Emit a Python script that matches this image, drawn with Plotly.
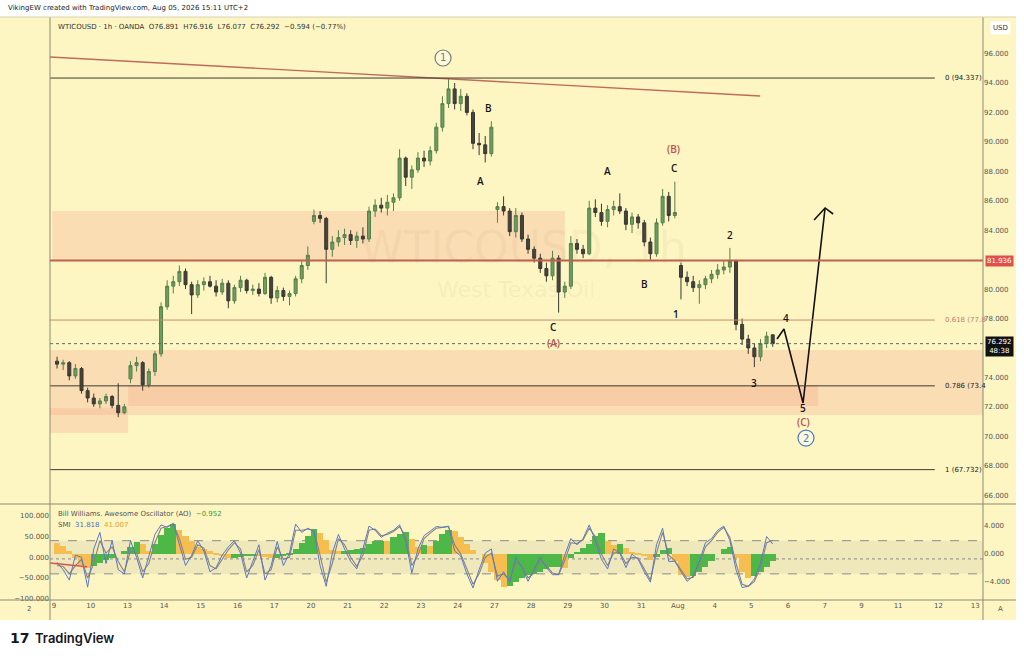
import plotly.graph_objects as go

# ---------------- data ----------------
# 4-hour-ish candles, 6 per trading day (Jul 9 .. Aug 5, 2026)
opens = [
    75.1, 74.9, 75.0, 74.1, 74.6, 73.1,   # Jul 9
    72.6, 72.2, 72.4, 72.7, 72.1, 71.6,   # Jul 10
    73.9, 74.8, 75.0, 73.5, 74.4, 75.6,   # Jul 13
    78.8, 80.2, 80.5, 81.2, 80.3, 79.6,   # Jul 14
    80.3, 80.5, 80.2, 79.8, 80.4, 79.2,   # Jul 15
    80.1, 80.6, 79.9, 80.0, 79.7, 80.8,   # Jul 16
    79.4, 79.9, 79.5, 79.7, 80.7, 81.6,   # Jul 17
    84.6, 85.0, 84.8, 82.7, 83.2, 83.5,   # Jul 20
    83.7, 83.3, 83.6, 83.4, 85.3, 85.7,   # Jul 21
    85.5, 85.9, 86.2, 88.9, 87.6, 88.1,   # Jul 22
    88.9, 88.7, 89.4, 91.0, 92.6, 93.6,   # Jul 23
    92.6, 93.1, 92.0, 89.9, 89.8, 89.2,   # Jul 24
    85.4, 85.6, 85.3, 83.9, 85.0, 83.4,   # Jul 27
    82.7, 82.1, 81.4, 80.9, 82.1, 79.8,   # Jul 28
    80.2, 83.1, 82.7, 82.4, 85.5, 85.2,   # Jul 29
    84.6, 85.4, 85.6, 85.3, 84.4, 84.9,   # Jul 30
    84.5, 83.2, 82.4, 84.5, 86.3, 85.0,   # Jul 31
    81.6, 80.8, 80.5, 80.1, 80.3, 80.7,   # Aug 3
    81.0, 81.3, 81.5, 81.9, 77.6, 76.6,   # Aug 4
    76.0, 75.4, 76.3, 76.891,             # Aug 5
]
highs = [
    75.4, 75.2, 75.1, 74.9, 74.7, 73.3,
    72.9, 72.6, 72.9, 72.8, 73.6, 72.2,
    75.1, 75.4, 75.1, 74.6, 75.8, 79.1,
    80.6, 80.9, 81.6, 81.4, 80.5, 80.6,
    80.8, 80.9, 80.6, 80.7, 80.6, 80.3,
    80.9, 80.7, 80.3, 80.4, 81.1, 80.9,
    80.2, 80.1, 79.9, 80.9, 81.9, 82.9,
    85.4, 85.3, 84.9, 83.6, 84.0, 84.1,
    84.0, 83.9, 84.2, 85.6, 86.1, 86.2,
    86.4, 86.5, 89.5, 89.0, 88.4, 89.3,
    89.4, 89.7, 91.3, 93.1, 94.34, 94.0,
    93.6, 93.3, 92.2, 90.6, 90.4, 91.4,
    85.9, 86.3, 85.5, 85.5, 85.2, 83.7,
    82.9, 82.4, 81.8, 82.6, 82.3, 80.5,
    83.6, 83.4, 83.0, 86.0, 86.1, 85.8,
    85.7, 86.0, 86.5, 85.5, 85.2, 85.1,
    84.7, 83.5, 84.8, 86.8, 86.6, 87.3,
    81.8, 81.2, 80.9, 80.6, 80.9, 81.3,
    81.7, 81.9, 82.8, 82.0, 78.0, 76.9,
    76.3, 76.6, 77.1, 76.916,
]
lows = [
    74.6, 74.5, 73.8, 73.9, 72.9, 72.3,
    72.0, 71.9, 72.2, 71.9, 71.3, 71.5,
    73.6, 74.4, 73.1, 73.3, 74.1, 75.4,
    78.6, 79.7, 80.2, 80.0, 78.3, 79.4,
    79.9, 80.1, 79.5, 79.6, 78.7, 79.0,
    79.8, 79.7, 79.6, 79.5, 79.6, 79.0,
    79.1, 79.2, 78.9, 79.5, 80.4, 81.3,
    84.4, 84.5, 80.4, 82.2, 82.9, 83.0,
    83.0, 82.8, 83.1, 83.2, 84.9, 85.2,
    85.0, 85.3, 86.0, 87.0, 86.8, 87.9,
    88.3, 88.4, 89.2, 90.7, 92.3, 92.2,
    92.1, 91.8, 89.5, 89.1, 88.6, 89.0,
    84.5, 85.0, 83.6, 83.5, 83.2, 82.4,
    81.8, 81.1, 80.5, 80.6, 78.4, 79.4,
    80.0, 82.4, 82.1, 82.3, 84.9, 84.3,
    84.2, 85.0, 85.1, 84.0, 83.8, 84.1,
    82.9, 82.0, 82.2, 84.3, 84.6, 84.8,
    79.3, 80.2, 79.8, 79.0, 80.0, 80.4,
    80.7, 81.0, 81.1, 77.2, 76.2, 75.6,
    74.7, 75.1, 76.0, 76.077,
]
closes = [
    74.9, 75.0, 74.1, 74.6, 73.1, 72.6,
    72.2, 72.4, 72.7, 72.1, 71.6, 72.0,
    74.8, 75.0, 73.5, 74.4, 75.6, 78.8,
    80.2, 80.5, 81.2, 80.3, 79.6, 80.3,
    80.5, 80.2, 79.8, 80.4, 79.2, 80.1,
    80.6, 79.9, 80.0, 79.7, 80.8, 79.4,
    79.9, 79.5, 79.7, 80.7, 81.6, 82.3,
    85.0, 84.8, 82.7, 83.2, 83.5, 83.7,
    83.3, 83.6, 83.4, 85.3, 85.7, 85.5,
    85.9, 86.2, 88.9, 87.6, 88.1, 88.9,
    88.7, 89.4, 91.0, 92.6, 93.6, 92.6,
    93.1, 92.0, 89.9, 89.8, 89.2, 91.0,
    85.6, 85.3, 83.9, 85.0, 83.4, 82.7,
    82.1, 81.4, 80.9, 82.1, 79.8, 80.2,
    83.1, 82.7, 82.4, 85.5, 85.2, 84.6,
    85.4, 85.6, 85.3, 84.4, 84.9, 84.5,
    83.2, 82.4, 84.5, 86.3, 85.0, 85.2,
    80.8, 80.5, 80.1, 80.3, 80.7, 81.0,
    81.3, 81.5, 81.9, 77.6, 76.6, 76.0,
    75.4, 76.3, 76.8, 76.292,
]

# Awesome Oscillator (right scale) and SMI / signal (left scale), one per candle
ao = [
    1.6, 1.2, 0.4, -0.6, -1.6, -2.0, -1.7, -1.3, -0.9, -0.5, 0.0, 0.4,
    1.0, 1.7, 1.5, 0.4, 1.5, 2.7, 3.7, 4.3, 3.5, 2.6, 1.8, 1.0,
    0.7, 0.4, 0.1, -0.3, -0.5, -0.5, -0.4, -0.3, -0.2, -0.3, -0.4, -0.5,
    -0.5, -0.3, 0.2, 0.7, 1.6, 2.6, 3.6, 3.0, 2.0, 0.6, 0.4, 0.5,
    0.6, 0.7, 0.8, 1.5, 1.9, 1.9, 1.8, 2.5, 2.9, 3.2, 2.2, 1.0,
    1.3, 1.1, 1.8, 2.8, 3.5, 3.3, 2.4, 1.4, 0.6, 0.0, -1.3, -2.5,
    -3.7, -4.7, -4.6, -4.0, -3.4, -3.0, -2.8, -2.5, -2.2, -1.9, -1.8, -2.0,
    -0.5, 0.3, 0.9, 1.5, 2.6, 3.0, 1.8, 1.3, 1.5, 0.8, 0.3, 0.1,
    -0.3, -0.8, -0.4, 0.6, 0.8, -1.0, -3.0, -3.3, -3.1, -2.6, -1.9, -1.0,
    0.0, 0.7, 1.0, -0.5, -2.6, -3.4, -3.2, -2.6, -1.8, -0.952,
]
smi = [
    -12, -30, -55, 5, 0, -72, 20, 60, -15, 40, -30, -40,
    40, 0, -50, 5, 55, 78, 72, 82, 30, -20, 5, 40,
    15, -35, -25, 5, 25, 40, 10, -50, -10, 30, -55, -20,
    38, -20, 10, 80, 60, 70, 62, -20, -70, 10, 55, 20,
    -10, -28, 20, 75, 65, 48, 58, 65, 78, 40, -38, 20,
    52, 62, 74, 72, 75, 15, 3, -40, -74, -30, 10, 20,
    -58, -35, -60, 0, -25, -58, -30, 0, -25, -42, -42, 5,
    45, 30, 45, 78, 40, -5, -28, 20, 10, -25, 8, -5,
    -35, -60, 30, 70, -10, -10, -35, -58, -45, -10, 35, 45,
    65, 75, 40, -30, -73, -70, -52, -15, 50, 31.818,
]
smi_signal = [
    -20, -22, -40, -20, -5, -50, -15, 40, 10, 25, -10, -35,
    15, 10, -35, -15, 35, 70, 74, 80, 45, -5, 0, 30,
    22, -20, -28, -5, 18, 35, 20, -35, -20, 18, -40, -30,
    25, -5, 0, 65, 65, 68, 64, 5, -60, -15, 45, 30,
    0, -22, 5, 65, 68, 52, 55, 62, 74, 50, -20, 5,
    45, 58, 70, 72, 74, 30, 8, -28, -65, -40, 0, 10,
    -45, -40, -55, -12, -20, -50, -38, -8, -20, -38, -42, -8,
    35, 33, 42, 70, 50, 8, -20, 10, 12, -15, 0, -2,
    -28, -55, 10, 60, 5, -8, -30, -52, -48, -18, 25, 40,
    60, 72, 48, -15, -65, -70, -58, -25, 35, 41.007,
]

# x-axis labels (trading days, then future dates)
day_labels = ["9", "10", "13", "14", "15", "16", "17", "20", "21", "22", "23", "24",
              "27", "28", "29", "30", "31", "Aug", "4", "5", "6", "7", "9", "11", "12", "13"]

# Fibonacci levels and key price
fib_ratio = ["0", "0.618", "0.786", "1"]
fib_price = [94.337, 77.895, 73.425, 67.732]
resistance = 81.936
last_price = 76.292

# drawings (day units, price)
trend_x = [-0.109, 19.24]
trend_y = [95.77, 93.12]
proj_x = [19.70, 19.89, 20.41, 21.01]
proj_y = [76.61, 77.29, 72.26, 85.51]
head_x = [20.71, 21.01, 21.23]
head_y = [84.69, 85.51, 85.10]

wave_text = ["B", "A", "A", "C", "C", "B", "1", "2", "3", "4", "5"]
wave_x = [11.83, 11.63, 15.07, 16.89, 13.60, 16.08, 16.95, 18.42, 19.07, 19.95, 20.41]
wave_y = [92.30, 87.34, 88.02, 88.23, 77.42, 80.35, 78.31, 83.67, 73.62, 78.04, 71.95]
big_text = ["(A)", "(B)", "(C)"]
big_x = [13.60, 16.87, 20.41]
big_y = [76.34, 89.52, 71.00]
circ_text = ["1", "2"]
circ_x = [10.60, 20.49]
circ_y = [95.70, 69.88]

# zones: (x0, x1, p0, p1)
zones_pale = [(-0.05, 13.92, 81.94, 85.30), (2.02, 25.4, 71.45, 75.86), (-0.11, 2.02, 70.22, 75.86)]
zones_dark = [(2.02, 20.82, 72.06, 73.48), (-0.11, 2.02, 71.45, 71.90)]

# ---------------- styling ----------------
BG = "#FDF6C3"
PALE = "#FADDB3"
DARK = "#F8CDA5"
TXT = "#2a2a2a"
AXT = "#555555"
FONT = "DejaVu Sans"
RED = "#C0504D"
XMIN, XMAX = -0.109, 25.313

def px_x(px):
    return (px - 50) / 933.0

def px_y(py):
    return (600 - py) / 583.0

n = len(closes)
cx = [i // 6 + (i % 6 + 0.5) / 6 for i in range(n)]

fig = go.Figure()

fig.add_trace(go.Candlestick(
    x=cx, open=opens, high=highs, low=lows, close=closes,
    increasing=dict(line=dict(color="#55804b", width=1), fillcolor="#6f9c5f"),
    decreasing=dict(line=dict(color="#3a3833", width=1), fillcolor="#46433c"),
    whiskerwidth=0, xaxis="x", yaxis="y", showlegend=False, hoverinfo="skip"))

# trendline & projection
fig.add_trace(go.Scatter(x=trend_x, y=trend_y, mode="lines", line=dict(color="#C06A5A", width=1.4),
                         xaxis="x", yaxis="y", hoverinfo="skip"))
fig.add_trace(go.Scatter(x=proj_x, y=proj_y, mode="lines", line=dict(color="#111111", width=1.6),
                         xaxis="x", yaxis="y", hoverinfo="skip"))
fig.add_trace(go.Scatter(x=head_x, y=head_y, mode="lines", line=dict(color="#111111", width=1.6),
                         xaxis="x", yaxis="y", hoverinfo="skip"))

# AO bars
ao_colors = ["#F6BE50" if (i == 0 or ao[i] < ao[i - 1]) else "#4DB848" for i in range(n)]
fig.add_trace(go.Bar(x=cx, y=ao, width=1 / 6, marker=dict(color=ao_colors, line=dict(width=0)),
                     xaxis="x", yaxis="y2", hoverinfo="skip"))
# SMI
fig.add_trace(go.Scatter(x=cx, y=smi_signal, mode="lines", line=dict(color="#8a8378", width=1.1),
                         xaxis="x", yaxis="y3", hoverinfo="skip"))
fig.add_trace(go.Scatter(x=cx, y=smi, mode="lines", line=dict(color="#5a78c8", width=1.0),
                         xaxis="x", yaxis="y3", hoverinfo="skip"))
fig.add_trace(go.Scatter(x=[XMIN, 0.9], y=[-14, -23], mode="lines", line=dict(color="#D9534F", width=1.4),
                         xaxis="x", yaxis="y3", hoverinfo="skip"))

shapes = []
# chart backdrop
shapes.append(dict(type="rect", xref="paper", yref="paper", x0=px_x(0), x1=px_x(1016), y0=px_y(620), y1=px_y(17),
                   fillcolor=BG, line=dict(width=0), layer="below"))
for (x0, x1, p0, p1) in zones_pale:
    shapes.append(dict(type="rect", xref="x", yref="y", x0=x0, x1=min(x1, XMAX), y0=p0, y1=p1,
                       fillcolor=PALE, line=dict(width=0), layer="below"))
for (x0, x1, p0, p1) in zones_dark:
    shapes.append(dict(type="rect", xref="x", yref="y", x0=x0, x1=x1, y0=p0, y1=p1,
                       fillcolor=DARK, line=dict(width=0), layer="below"))
# fib lines
fib_colors = ["#3b3b30", "#C98A72", "#3b3b30", "#3b3b30"]
for r, p, c in zip(fib_ratio, fib_price, fib_colors):
    shapes.append(dict(type="line", xref="x", yref="y", x0=XMIN, x1=24.0, y0=p, y1=p,
                       line=dict(color=c, width=1), layer="above"))
# resistance line
shapes.append(dict(type="line", xref="x", yref="y", x0=XMIN, x1=XMAX, y0=resistance, y1=resistance,
                   line=dict(color="#C0604F", width=2)))
# current price dotted line
shapes.append(dict(type="line", xref="x", yref="y", x0=XMIN, x1=XMAX, y0=last_price, y1=last_price,
                   line=dict(color="#666666", width=1, dash="dot")))
# oscillator band
shapes.append(dict(type="rect", xref="x domain", yref="y3", x0=0, x1=1, y0=-40, y1=40,
                   fillcolor="rgba(140,140,140,0.13)", line=dict(width=0), layer="below"))
for v, d in [(40, "dash"), (-40, "dash"), (-4, "dot")]:
    shapes.append(dict(type="line", xref="x domain", yref="y3", x0=0, x1=1, y0=v, y1=v,
                       line=dict(color="#8c8c8c", width=1, dash=d), layer="below"))
# frame lines
FR = "#8f8a70"
shapes += [
    dict(type="line", xref="paper", yref="paper", x0=px_x(50), x1=px_x(50), y0=px_y(620), y1=px_y(17),
         line=dict(color=FR, width=1)),
    dict(type="line", xref="paper", yref="paper", x0=px_x(983), x1=px_x(983), y0=px_y(620), y1=px_y(17),
         line=dict(color=FR, width=1)),
    dict(type="line", xref="paper", yref="paper", x0=px_x(0), x1=px_x(1016), y0=px_y(504), y1=px_y(504),
         line=dict(color=FR, width=1)),
    dict(type="line", xref="paper", yref="paper", x0=px_x(0), x1=px_x(1016), y0=px_y(600), y1=px_y(600),
         line=dict(color=FR, width=1)),
    dict(type="line", xref="paper", yref="paper", x0=px_x(0), x1=px_x(1016), y0=px_y(17), y1=px_y(17),
         line=dict(color="#d8d3b0", width=1)),
]
# wave circles
circ_colors = ["#7a7a7a", "#4a78c8"]
for cxv, cyv, cc in zip(circ_x, circ_y, circ_colors):
    shapes.append(dict(type="circle", xref="x", yref="y", xsizemode="pixel", ysizemode="pixel",
                       xanchor=cxv, yanchor=cyv, x0=-8, x1=8, y0=-8, y1=8,
                       line=dict(color=cc, width=1.2), fillcolor="rgba(255,255,255,0.35)"))

ann = []

def pann(text, px, py, size=7, color=TXT, xanchor="left", yanchor="middle", family=FONT, weight="normal", **kw):
    d = dict(text=text, x=px_x(px), y=px_y(py), xref="paper", yref="paper", showarrow=False,
             font=dict(size=size, color=color, family=family, weight=weight), xanchor=xanchor, yanchor=yanchor)
    d.update(kw)
    return d

ann.append(pann("VikingEW created with TradingView.com, Aug 05, 2026 15:11 UTC+2", 6, 8, size=7, color="#222"))
ann.append(pann("WTICOUSD · 1h · OANDA  O76.891  H76.916  L76.077  C76.292  −0.594 (−0.77%)", 56, 27,
                size=7, color="#333"))
ann.append(pann("Bill Williams. Awesome Oscillator (AO)  <span style='color:#3a9a35'>−0.952</span>", 56, 514,
                size=7, color="#555"))
ann.append(pann("SMI  <span style='color:#4a6ec8'>31.818</span>  <span style='color:#e0a030'>41.007</span>",
                56, 525, size=7, color="#555"))
# watermark
ann.append(pann("WTICOUSD, 1h", 523, 247, size=44, color="rgba(150,110,70,0.07)", xanchor="center"))
ann.append(pann("West Texas Oil", 516, 289, size=22, color="rgba(150,110,70,0.08)", xanchor="center"))
# axis extras
ann.append(pann("2", 29, 609, size=7, color=AXT, xanchor="center"))
ann.append(pann("A", 1000, 609, size=7, color=AXT, xanchor="center"))
ann.append(pann("USD", 1000, 28, size=7, color="#333", xanchor="center", bgcolor="white", borderpad=2))
# logo
ann.append(pann("<b>𝟭𝟳</b>", 8, 638, size=14, color="#131722"))
ann.append(pann("TradingView", 33, 638, size=13, color="#131722", family="Inter", weight=600))

# fib labels
fib_label_colors = ["#222", "#C0806A", "#222", "#222"]
fib_label_text = ["0 (94.337)", "0.618 (77.8", "0.786 (73.4", "1 (67.732)"]
for t, p, c in zip(fib_label_text, fib_price, fib_label_colors):
    ann.append(dict(text=t, x=24.22, y=p, xref="x", yref="y", showarrow=False, xanchor="left",
                    yanchor="middle", font=dict(size=7, color=c, family=FONT)))
# price boxes on right axis
ann.append(dict(text="81.936", x=1 + 2 / 933, y=resistance, xref="paper", yref="y", showarrow=False,
                xanchor="left", yanchor="middle", bgcolor="#E0504A", borderpad=1,
                font=dict(size=7, color="white", family=FONT)))
ann.append(dict(text="76.292<br>48:38", x=1 + 2 / 933, y=last_price, yshift=-3, xref="paper", yref="y",
                showarrow=False, xanchor="left", yanchor="middle", bgcolor="#111111", borderpad=1,
                font=dict(size=7, color="white", family=FONT)))
# wave labels
for t, x, y in zip(wave_text, wave_x, wave_y):
    ann.append(dict(text=t, x=x, y=y, xref="x", yref="y", showarrow=False,
                    font=dict(size=10, color="#151515", family="Open Sans", weight=600)))
for t, x, y in zip(big_text, big_x, big_y):
    ann.append(dict(text=t, x=x, y=y, xref="x", yref="y", showarrow=False,
                    font=dict(size=10, color=RED, family="Open Sans", weight=600)))
for t, x, y, c in zip(circ_text, circ_x, circ_y, circ_colors):
    ann.append(dict(text=t, x=x, y=y, xref="x", yref="y", showarrow=False,
                    font=dict(size=10, color=c, family=FONT)))

tick_pos = list(range(24)) + [24.1, 25.1]
tickfont = dict(size=7, color=AXT, family=FONT)

fig.update_layout(
    width=1024, height=658,
    margin=dict(l=50, r=41, t=17, b=58, pad=0),
    paper_bgcolor="white", plot_bgcolor="rgba(0,0,0,0)",
    showlegend=False, bargap=0,
    shapes=shapes, annotations=ann,
    xaxis=dict(domain=[0, 1], range=[XMIN, XMAX], anchor="y2", tickvals=tick_pos, ticktext=day_labels,
               showgrid=False, zeroline=False, showline=False, ticks="", tickfont=tickfont,
               rangeslider=dict(visible=False), fixedrange=True),
    yaxis=dict(domain=[0.1664, 1], range=[65.467, 98.484], side="right", anchor="x",
               tickvals=[66, 68, 70, 72, 74, 78, 80, 84, 86, 88, 90, 92, 94, 96], tickformat=".3f",
               showgrid=False, zeroline=False, showline=False, ticks="", tickfont=tickfont),
    yaxis2=dict(domain=[0, 0.163], range=[-6.57, 7.0], side="right", anchor="x",
                tickvals=[-4, 0, 4], tickformat=".3f", showgrid=False, zeroline=False,
                showline=False, ticks="", tickfont=tickfont),
    yaxis3=dict(overlaying="y2", side="left", anchor="x", range=[-103, 126],
                tickvals=[-100, -50, 0, 50, 100], tickformat=".3f", showgrid=False, zeroline=False,
                showline=False, ticks="", tickfont=tickfont),
)

fig.write_html("out.html", config={"displayModeBar": False},
               post_script="document.body.style.margin='0px';document.body.style.overflow='hidden';")
